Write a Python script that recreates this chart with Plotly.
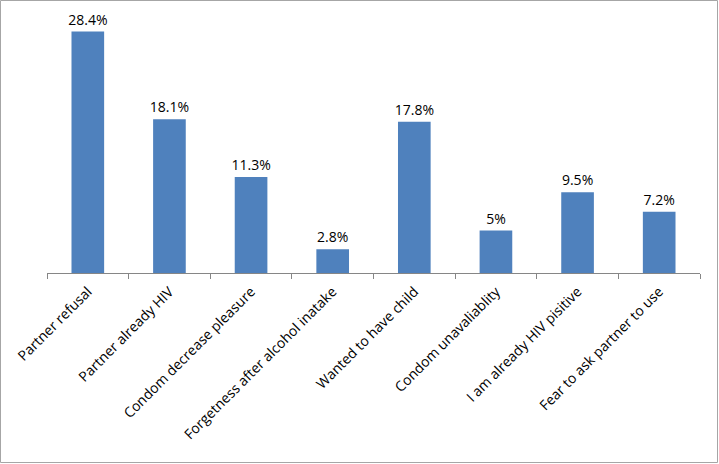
import plotly.graph_objects as go

# reasons for not using condom (percent of respondents)
reasons = [
    "Partner refusal",
    "Partner already HIV",
    "Condom decrease pleasure",
    "Forgetness after alcohol inatake",
    "Wanted to have child",
    "Condom unavaliablity",
    "I am already HIV pisitive",
    "Fear to ask partner to use",
]
percent = [28.4, 18.1, 11.3, 2.8, 17.8, 5, 9.5, 7.2]
labels = ["%g%%" % v for v in percent]

W, H = 719, 464
ml, mr, mt, mb = 47, 19, 18, 191
pw, ph = W - ml - mr, H - mt - mb

fig = go.Figure(
    go.Bar(
        x=reasons,
        y=percent,
        text=labels,
        textposition="outside",
        cliponaxis=False,
        marker=dict(color="#4F81BD", line=dict(width=0)),
        textfont=dict(size=14, color="black"),
    )
)

fig.update_layout(
    width=W,
    height=H,
    margin=dict(l=ml, r=mr, t=mt, b=mb, autoexpand=False),
    plot_bgcolor="white",
    paper_bgcolor="white",
    font=dict(family="Open Sans", size=14, color="black"),
    bargap=0.6,
    showlegend=False,
    uniformtext=dict(minsize=14, mode="show"),
    shapes=[
        dict(
            type="rect",
            xref="paper",
            yref="paper",
            x0=(0.5 - ml) / pw,
            x1=(W - 1.5 - ml) / pw,
            y0=-(mb - 1.5) / ph,
            y1=1 + (mt - 0.5) / ph,
            line=dict(color="#A6A6A6", width=1),
        )
    ],
)

fig.update_xaxes(
    tickangle=-45,
    automargin=False,
    showline=True,
    linecolor="#868686",
    linewidth=1,
    ticks="outside",
    tickson="boundaries",
    ticklen=5,
    tickcolor="#868686",
    ticklabelstandoff=4,
    showgrid=False,
    tickfont=dict(size=14),
)
fig.update_yaxes(range=[0, 30], visible=False, showgrid=False, automargin=False)

# drop the default page margin so the figure sits at the window corner
fig.write_html(
    "out.html",
    config={"displayModeBar": False},
    post_script="document.body.style.margin='0';document.body.style.overflow='hidden';",
)
